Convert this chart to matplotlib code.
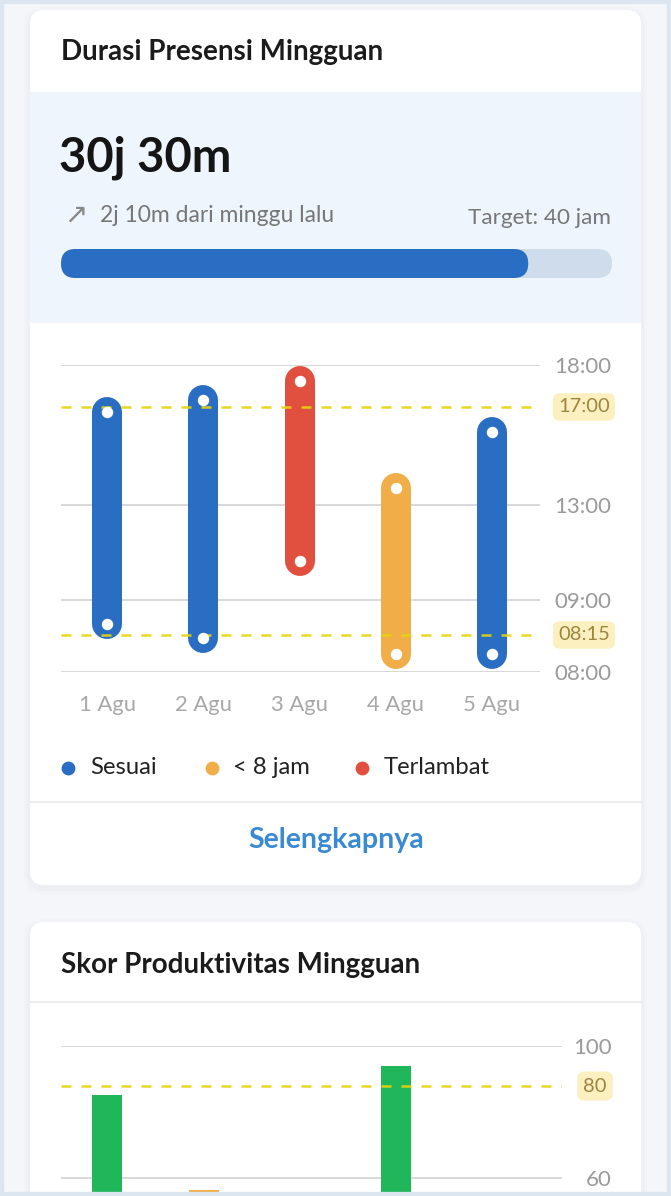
import numpy as np
import matplotlib.pyplot as plt
from matplotlib.patches import FancyBboxPatch, Rectangle
from matplotlib.transforms import blended_transform_factory

plt.rcParams['font.family'] = ['Lato', 'DejaVu Sans']

# ---- data ----
days = ['1 Agu', '2 Agu', '3 Agu', '4 Agu', '5 Agu']
jam_masuk = [8.48, 8.23, 10.63, 8.12, 8.12]      # hours, decimal
jam_pulang = [16.8, 17.17, 17.62, 13.68, 16.0]
status = ['Sesuai', 'Sesuai', 'Terlambat', '< 8 jam', 'Sesuai']
status_names = ['Sesuai', '< 8 jam', 'Terlambat']
time_ticks = [8, 9, 13, 18]
time_tick_labels = ['08:00', '09:00', '13:00', '18:00']
batas_jam = [17, 8.25]
batas_labels = ['17:00', '08:15']

total_label = '30j 30m'
delta_label = '2j 10m dari minggu lalu'
target_label = 'Target: 40 jam'
progress = 0.848

skor = [78, 57.5, np.nan, 90, np.nan]
skor_status = ['baik', 'kurang', 'baik', 'baik', 'baik']
skor_ticks = [60, 100]
skor_target = 80

colors = {'Sesuai': '#2a6ec3', '< 8 jam': '#f0ad48', 'Terlambat': '#e1503f'}
skor_colors = {'baik': '#20b65a', 'kurang': '#f0ad48'}

W, H = 671, 1196
fig = plt.figure(figsize=(W / 100, H / 100), dpi=100)
fig.patch.set_facecolor('#f4f6f9')

ui = fig.add_axes([0, 0, 1, 1])
ui.set_xlim(0, W)
ui.set_ylim(H, 0)
ui.axis('off')


def px_axes(x0, y0, x1, y1):
    a = fig.add_axes([x0 / W, 1 - y1 / H, (x1 - x0) / W, (y1 - y0) / H])
    a.patch.set_alpha(0)
    for s in a.spines.values():
        s.set_visible(False)
    return a


def piecewise(vals, pos):
    # the app's axis is not linear, so map values through anchor points
    vals = np.asarray(vals, float)
    pos = np.asarray(pos, float)

    def mapper(a, b):
        def f(y):
            y = np.asarray(y, float)
            out = np.interp(y, a, b)
            out = np.where(y < a[0], b[0] + (y - a[0]) * (b[1] - b[0]) / (a[1] - a[0]), out)
            out = np.where(y > a[-1], b[-1] + (y - a[-1]) * (b[-1] - b[-2]) / (a[-1] - a[-2]), out)
            return out
        return f
    return mapper(vals, pos), mapper(pos, vals)


def card(y0, y1):
    for k, al in [(6, 0.025), (3, 0.035)]:
        ui.add_patch(FancyBboxPatch((30 - k, y0 - k + 3), 611 + 2 * k, y1 - y0 + 2 * k,
                                    boxstyle='round,pad=0,rounding_size=%d' % (14 + k),
                                    fc='#8a9bb0', ec='none', alpha=al))
    ui.add_patch(FancyBboxPatch((30, y0), 611, y1 - y0, boxstyle='round,pad=0,rounding_size=14',
                                fc='white', ec='none'))


# ---- card 1 ----
card(10, 885)
ui.add_patch(Rectangle((30, 92), 611, 231, fc='#eef5fd', ec='none'))
ui.plot([30, 641], [802, 802], color='#ececec', lw=1.5)
ui.text(61, 52, 'Durasi Presensi Mingguan', fontsize=20, fontweight='bold', va='center', color='#1b1b1b')
ui.text(59, 158, total_label, fontsize=34, fontweight='bold', va='center', color='#151515')
ui.text(64, 215, '↗', fontsize=20, va='center', color='#888888', family=['DejaVu Sans'])
ui.text(100, 216, delta_label, fontsize=16.5, va='center', color='#777777')
ui.text(611, 218, target_label, fontsize=16.2, va='center', ha='right', color='#777777')
ui.add_patch(FancyBboxPatch((61, 249), 551, 29, boxstyle='round,pad=0,rounding_size=14.5',
                            fc='#cfdceb', ec='none'))
ui.add_patch(FancyBboxPatch((61, 249), 551 * progress, 29, boxstyle='round,pad=0,rounding_size=14.5',
                            fc='#2a6ec3', ec='none'))

ax = px_axes(61, 365, 540, 672)
ax.set_yscale('function', functions=piecewise([8, 8.25, 9, 13, 17, 18], [0, 37, 72, 167, 265, 307]))
ax.set_ylim(8, 18)
ax.set_xlim(-0.48, 4.5)
ax.set_yticks(time_ticks, time_tick_labels)
ax.yaxis.tick_right()
ax.tick_params(axis='y', length=0, pad=10.5, labelsize=16, labelcolor='#9a9a9a')
ax.set_xticks(range(len(days)), days)
ax.tick_params(axis='x', length=0, pad=16.5, labelsize=15.8, labelcolor='#a8a8a8')
ax.grid(axis='y', color='#d6d6d6', lw=1.3)
ax.set_axisbelow(True)

x = np.arange(len(days))
for i in x:
    ax.plot([i, i], [jam_masuk[i], jam_pulang[i]], lw=21.6, solid_capstyle='round',
            color=colors[status[i]], zorder=3, clip_on=False)
ax.scatter(x, jam_masuk, s=52, color='white', zorder=5, clip_on=False)
ax.scatter(x, jam_pulang, s=52, color='white', zorder=5, clip_on=False)

bt = blended_transform_factory(ax.transAxes, ax.transData)
for y, lab in zip(batas_jam, batas_labels):
    ax.axhline(y, color='#e6d40c', lw=1.8, ls=(0, (4, 4)), zorder=4, alpha=0.9)
    ax.text(1.0 + 18 / 479, y, lab, transform=bt, va='center', ha='left', fontsize=14.5,
            color='#9c8640', bbox=dict(boxstyle='round,pad=0.26,rounding_size=0.35',
                                       fc='#fcefc0', ec='none'))

for xs, xt, name in zip([68, 212, 362], [90, 233, 384], status_names):
    ui.scatter([xs], [768], s=80, color=colors[name])
    ui.text(xt, 768, name, fontsize=17.2, va='center', color='#222222')

ui.text(336, 840, 'Selengkapnya', fontsize=20.5, fontweight='bold', ha='center', va='center',
        color='#3a8ad3')

# ---- card 2 ----
card(922, 1320)
ui.plot([30, 641], [1002, 1002], color='#ececec', lw=1.5)
ui.text(61, 965, 'Skor Produktivitas Mingguan', fontsize=20, fontweight='bold', va='center',
        color='#1b1b1b')

ax2 = px_axes(61, 1046, 562, 1192)
ax2.set_yscale('function', functions=piecewise([60, 80, 100], [0, 92, 132]))
ax2.set_ylim(57, 100)
ax2.set_xlim(-0.48, 4.72)
ax2.set_yticks(skor_ticks, [str(t) for t in skor_ticks])
ax2.yaxis.tick_right()
ax2.tick_params(axis='y', length=0, pad=36, labelsize=16, labelcolor='#9a9a9a')
for lab in ax2.get_yticklabels():
    lab.set_ha('right')
ax2.set_xticks([])
ax2.grid(axis='y', color='#d6d6d6', lw=1.3)
ax2.set_axisbelow(True)
vals = np.array(skor, float)
ax2.bar(x, vals - 57, bottom=57, width=0.31,
        color=[skor_colors[s] for s in skor_status], zorder=3)
bt2 = blended_transform_factory(ax2.transAxes, ax2.transData)
ax2.axhline(skor_target, color='#e6d40c', lw=1.8, ls=(0, (4, 4)), zorder=4, alpha=0.9)
ax2.text((595 - 61) / 501, skor_target, str(skor_target), transform=bt2, va='center', ha='center',
         fontsize=14.5, color='#9c8640',
         bbox=dict(boxstyle='round,pad=0.3,rounding_size=0.35', fc='#fcefc0', ec='none'))

# frame border
fig.add_artist(Rectangle((0, 0), 1, 1, transform=fig.transFigure, fill=False,
                         ec='#dbe6f0', lw=6, zorder=10))

fig.savefig('out.png', dpi=100, facecolor=fig.get_facecolor())
